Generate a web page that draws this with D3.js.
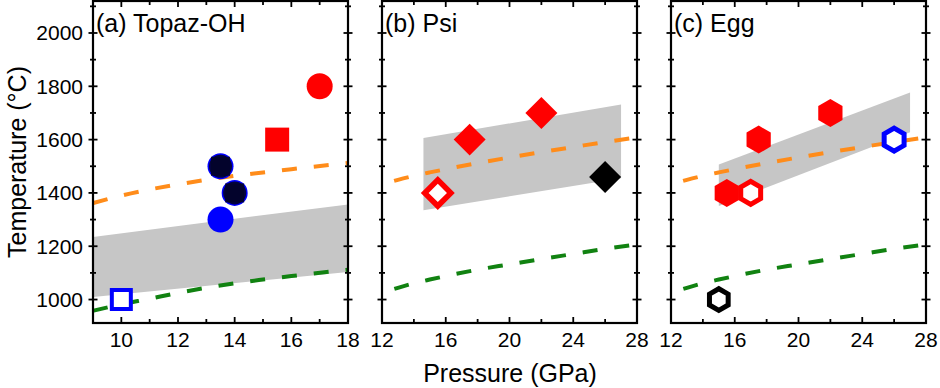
<!DOCTYPE html>
<html>
<head>
<meta charset="utf-8">
<script src="https://cdn.jsdelivr.net/npm/d3@7/dist/d3.min.js"></script>
<style>
    body { margin: 0; background: #fff; }
    text { font-family: Arial, "Liberation Sans", sans-serif; fill: #000; }
</style>
</head>
<body>
<svg id="chart" width="940" height="388"></svg>
<script>
// curves (shared by all three panels)
var curveP = [9, 10, 11, 12, 13, 14, 15, 16, 18, 20, 22, 24, 26, 28];
var orangeT = [1362, 1390, 1413, 1432, 1449, 1464, 1477, 1489, 1512, 1533, 1553, 1572, 1591, 1608];
var greenT = [958, 982, 1003, 1025, 1044, 1061, 1075, 1088, 1112, 1132, 1152, 1171, 1190, 1207];

var panelNames = ['(a) Topaz-OH', '(b) Psi', '(c) Egg'];
var xDomains = [[9, 18], [12, 28], [12, 28]];
var xTicks = [[10, 12, 14, 16, 18], [12, 16, 20, 24, 28], [12, 16, 20, 24, 28]];
var yTicks = [1000, 1200, 1400, 1600, 1800, 2000];

// grey bands: pressure at both ends, lower and upper temperature
var bandP = [[9, 18], [14.6, 27], [15, 27]];
var bandLow = [[1010, 1103], [1335, 1455], [1351, 1628]];
var bandHigh = [[1235, 1357], [1606, 1732], [1507, 1777]];

// experiments
var topazP = [10, 13.5, 13.5, 14, 15.5, 17];
var topazT = [1000, 1300, 1500, 1400, 1600, 1800];
var topazKind = ['openBlueSquare', 'blueCircle', 'darkCircle', 'darkCircle', 'redSquare', 'redCircle'];

var psiP = [15.5, 17.5, 22, 26];
var psiT = [1400, 1600, 1700, 1460];
var psiKind = ['openRedDiamond', 'redDiamond', 'redDiamond', 'blackDiamond'];

var eggP = [15, 15.5, 17, 17.5, 22, 26];
var eggT = [1000, 1400, 1400, 1600, 1700, 1600];
var eggKind = ['openBlackHex', 'redHex', 'openRedHex', 'redHex', 'redHex', 'openBlueHex'];

var pointsP = [topazP, psiP, eggP],
    pointsT = [topazT, psiT, eggT],
    pointsKind = [topazKind, psiKind, eggKind];

var svg = d3.select('#chart'),
    panelLeft = [93, 382, 671],
    panelWidth = 255,
    plotTop = 1,
    plotBottom = 323;

var y = d3.scaleLinear().domain([912, 2120]).range([plotBottom, plotTop]);

function hexPath(r) {
    var pts = d3.range(6).map(function(i) {
        var a = (Math.PI / 3) * i - Math.PI / 2;
        return [r * Math.cos(a), r * Math.sin(a)];
    });
    return d3.line()(pts) + 'Z';
}
function squarePath(s) {
    var h = s / 2;
    return 'M' + -h + ',' + -h + 'H' + h + 'V' + h + 'H' + -h + 'Z';
}

var markerStyle = {
    openBlueSquare: { d: squarePath(19), fill: '#fff', stroke: '#0000ff', sw: 4 },
    blueCircle: { d: d3.symbol(d3.symbolCircle, Math.PI * 13 * 13)(), fill: '#0000ff' },
    darkCircle: { d: d3.symbol(d3.symbolCircle, Math.PI * 13 * 13)(), fill: '#0000ff' },
    redSquare: { d: squarePath(24), fill: '#ff0000' },
    redCircle: { d: d3.symbol(d3.symbolCircle, Math.PI * 13 * 13)(), fill: '#ff0000' },
    openRedDiamond: { d: squarePath(18.5), rot: 45, fill: '#fff', stroke: '#ff0000', sw: 5.5 },
    redDiamond: { d: squarePath(22.6), rot: 45, fill: '#ff0000' },
    blackDiamond: { d: squarePath(22.6), rot: 45, fill: '#000' },
    redHex: { d: hexPath(14), fill: '#ff0000' },
    openRedHex: { d: hexPath(11.5), fill: '#fff', stroke: '#ff0000', sw: 5 },
    openBlueHex: { d: hexPath(11.5), fill: '#fff', stroke: '#0000ff', sw: 5 },
    openBlackHex: { d: hexPath(10.8), fill: '#fff', stroke: '#000', sw: 5 }
};

panelNames.forEach(function(name, i) {
    var x = d3.scaleLinear().domain(xDomains[i]).range([panelLeft[i], panelLeft[i] + panelWidth]);
    var g = svg.append('g');

    svg.append('clipPath')
        .attr('id', 'clip' + i)
        .append('rect')
        .attr('x', panelLeft[i])
        .attr('y', plotTop)
        .attr('width', panelWidth)
        .attr('height', plotBottom - plotTop);

    var inner = g.append('g').attr('clip-path', 'url(#clip' + i + ')');

    // grey band
    var area = d3.area()
        .x(function(d, j) { return x(bandP[i][j]); })
        .y0(function(d, j) { return y(bandLow[i][j]); })
        .y1(function(d, j) { return y(bandHigh[i][j]); });
    inner.append('path')
        .datum(bandP[i])
        .attr('d', area)
        .attr('fill', '#c6c6c6');

    // dashed curves
    var line = function(temps) {
        return d3.line()
            .x(function(d, j) { return x(curveP[j]); })
            .y(function(d) { return y(d); })
            .curve(d3.curveMonotoneX)(temps);
    };
    inner.append('path')
        .attr('d', line(orangeT))
        .attr('fill', 'none')
        .attr('stroke', '#ff8c1a')
        .attr('stroke-width', 4)
        .attr('stroke-dasharray', '15,17');
    inner.append('path')
        .attr('d', line(greenT))
        .attr('fill', 'none')
        .attr('stroke', '#118211')
        .attr('stroke-width', 4)
        .attr('stroke-dasharray', '15,17');

    // markers
    pointsKind[i].forEach(function(kind, j) {
        var st = markerStyle[kind];
        var m = g.append('g')
            .attr('transform', 'translate(' + x(pointsP[i][j]) + ',' + y(pointsT[i][j]) + ')');
        m.append('path')
            .attr('d', st.d)
            .attr('transform', st.rot ? 'rotate(' + st.rot + ')' : null)
            .attr('fill', st.fill)
            .attr('stroke', st.stroke || 'none')
            .attr('stroke-width', st.sw || 0)
            .attr('stroke-linejoin', 'miter');
        if (kind === 'darkCircle') {
            m.append('path').attr('d', squarePath(19)).attr('fill', '#03032a').attr('opacity', 0.9);
            m.append('circle').attr('r', 11.5).attr('fill', '#03032a').attr('opacity', 0.9);
        }
    });

    // frame
    g.append('rect')
        .attr('x', panelLeft[i])
        .attr('y', plotTop)
        .attr('width', panelWidth)
        .attr('height', plotBottom - plotTop)
        .attr('fill', 'none')
        .attr('stroke', '#000')
        .attr('stroke-width', 2.2);

    // x ticks (bottom and top, inward)
    var xStep = xTicks[i][1] - xTicks[i][0];
    var xMinor = d3.range(xDomains[i][0], xDomains[i][1] + 0.01, xStep / 2);
    xMinor.forEach(function(v) {
        var major = xTicks[i].indexOf(v) >= 0;
        var len = major ? 6 : 4;
        g.append('line').attr('x1', x(v)).attr('x2', x(v))
            .attr('y1', plotBottom).attr('y2', plotBottom - len)
            .attr('stroke', '#000').attr('stroke-width', 1.8);
        g.append('line').attr('x1', x(v)).attr('x2', x(v))
            .attr('y1', plotTop).attr('y2', plotTop + len)
            .attr('stroke', '#000').attr('stroke-width', 1.8);
    });
    xTicks[i].forEach(function(v) {
        g.append('text')
            .attr('x', x(v))
            .attr('y', 347)
            .attr('text-anchor', 'middle')
            .style('font-size', '21px')
            .text(v);
    });

    // y ticks (left and right, crossing)
    d3.range(1000, 2101, 100).forEach(function(v) {
        var major = yTicks.indexOf(v) >= 0;
        var len = major ? 4.5 : 3;
        [panelLeft[i], panelLeft[i] + panelWidth].forEach(function(xx) {
            g.append('line').attr('x1', xx - len).attr('x2', xx + len)
                .attr('y1', y(v)).attr('y2', y(v))
                .attr('stroke', '#000').attr('stroke-width', 1.8);
        });
    });
    if (i === 0) {
        yTicks.forEach(function(v) {
            g.append('text')
                .attr('x', 83)
                .attr('y', y(v))
                .attr('dy', '0.35em')
                .attr('text-anchor', 'end')
                .style('font-size', '21px')
                .text(v);
        });
    }

    g.append('text')
        .attr('x', panelLeft[i] + 3)
        .attr('y', 32)
        .style('font-size', '25px')
        .text(name);
});

svg.append('text')
    .attr('x', 510)
    .attr('y', 382)
    .attr('text-anchor', 'middle')
    .style('font-size', '25px')
    .text('Pressure (GPa)');

svg.append('text')
    .attr('transform', 'translate(26,162) rotate(-90)')
    .attr('text-anchor', 'middle')
    .style('font-size', '25px')
    .text('Temperature (°C)');
</script>
</body>
</html>
